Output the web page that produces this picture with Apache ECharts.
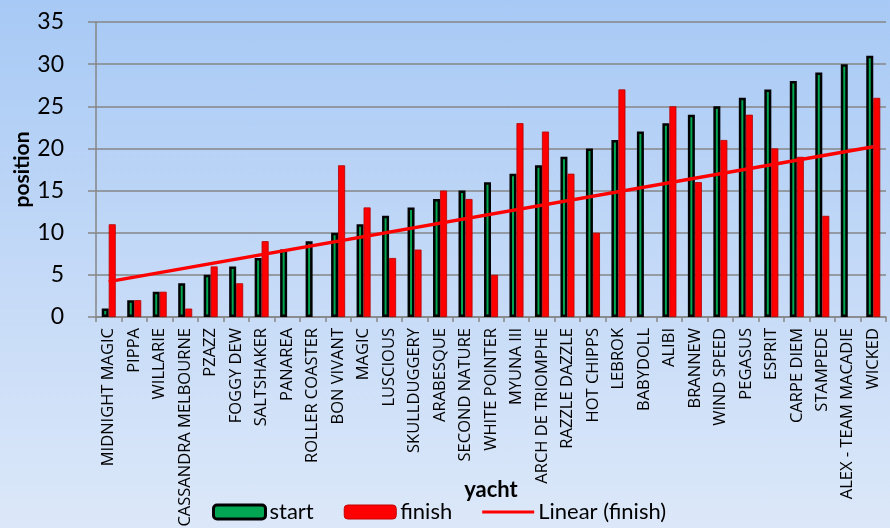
<!DOCTYPE html>
<html>
<head>
<meta charset="utf-8">
<script src="https://cdn.jsdelivr.net/npm/echarts@6/dist/echarts.min.js"></script>
<style>
	html, body { margin: 0; padding: 0; }
	body { background: linear-gradient(to bottom, #a7c9f5 0%, #c3d9f7 50%, #dce8f9 100%); }
	#chart { width: 890px; height: 528px; }
</style>
</head>
<body>
<div id="chart"></div>
<script>
// yacht names, in start order
var yachts = ['MIDNIGHT MAGIC', 'PIPPA', 'WILLARIE', 'CASSANDRA MELBOURNE', 'PZAZZ', 'FOGGY DEW',
	'SALTSHAKER', 'PANAREA', 'ROLLER COASTER', 'BON VIVANT', 'MAGIC', 'LUSCIOUS', 'SKULLDUGGERY',
	'ARABESQUE', 'SECOND NATURE', 'WHITE POINTER', 'MYUNA III', 'ARCH DE TRIOMPHE', 'RAZZLE DAZZLE',
	'HOT CHIPPS', 'LEBROK', 'BABYDOLL', 'ALIBI', 'BRANNEW', 'WIND SPEED', 'PEGASUS', 'ESPRIT',
	'CARPE DIEM', 'STAMPEDE', 'ALEX - TEAM MACADIE', 'WICKED'];
var startPos = [1, 2, 3, 4, 5, 6, 7, 8, 9, 10, 11, 12, 13, 14, 15, 16, 17, 18, 19, 20, 21, 22, 23, 24,
	25, 26, 27, 28, 29, 30, 31];
// null = did not finish
var finishPos = [11, 2, 3, 1, 6, 4, 9, null, null, 18, 13, 7, 8, 15, 14, 5, 23, 22, 17, 10, 27, null,
	25, 16, 21, 24, 20, 19, 12, null, 26];
// trend line ends (first / last yacht)
var trendEnds = [4.2, 20.2];
var yTicks = [0, 5, 10, 15, 20, 25, 30, 35];

var font = 'Lato, "Open Sans", sans-serif';
var myChart = echarts.init(document.getElementById('chart'));

var option = {
	backgroundColor: 'transparent',
	animation: false,
	textStyle: { fontFamily: font },
	grid: { left: 96, right: 4, top: 22, bottom: 211, containLabel: false, outerBoundsMode: 'none' },
	legend: {
		bottom: 0,
		left: 207,
		itemWidth: 52,
		itemHeight: 14,
		itemGap: 30,
		textStyle: { fontSize: 22, color: '#000', fontFamily: font, padding: [0, 0, 0, -1] },
		data: [
			{ name: 'start', itemStyle: { color: '#00a651', borderColor: '#000', borderWidth: 3 } },
			{ name: 'finish', itemStyle: { color: '#ff0000', borderColor: '#c00000', borderWidth: 1 } },
			{ name: 'Linear (finish)', icon: 'path://M0,0 L52,0 L52,3 L0,3 Z', itemStyle: { color: '#ff0000' } }
		]
	},
	xAxis: {
		type: 'category',
		data: yachts,
		name: 'yacht',
		nameLocation: 'middle',
		nameGap: 162,
		nameMoveOverlap: false,
		nameTextStyle: { fontSize: 22, fontWeight: 'bold', color: '#000', fontFamily: font },
		axisLine: { lineStyle: { color: '#868686', width: 1.5 } },
		axisTick: { show: true, length: 5, lineStyle: { color: '#868686', width: 1.5 } },
		axisLabel: { rotate: 90, interval: 0, fontSize: 16.5, color: '#000', margin: 11, fontFamily: '"Open Sans", Lato, sans-serif' }
	},
	yAxis: {
		type: 'value',
		min: yTicks[0],
		max: yTicks[yTicks.length - 1],
		interval: 5,
		name: 'position',
		nameLocation: 'middle',
		nameGap: 63,
		nameMoveOverlap: false,
		nameTextStyle: { fontSize: 21, fontWeight: 'bold', color: '#000', fontFamily: font },
		axisLine: { show: true, lineStyle: { color: '#868686', width: 1.5 } },
		axisTick: { show: true, length: 8, lineStyle: { color: '#868686', width: 1.5 } },
		axisLabel: { fontSize: 23, color: '#000', margin: 32, fontFamily: font },
		splitLine: { lineStyle: { color: '#868686', width: 1.5 } }
	},
	series: [
		{
			name: 'start',
			type: 'bar',
			data: startPos,
			barWidth: 7,
			barGap: '0%',
			itemStyle: { color: '#00a651', borderColor: '#000', borderWidth: 2.5 }
		},
		{
			name: 'finish',
			type: 'bar',
			data: finishPos,
			barWidth: 7,
			itemStyle: { color: '#ff0000', borderColor: '#b00000', borderWidth: 0.8 }
		},
		{
			name: 'Linear (finish)',
			type: 'line',
			data: [[yachts[0], trendEnds[0]], [yachts[yachts.length - 1], trendEnds[1]]],
			symbol: 'none',
			z: 5,
			lineStyle: { color: '#ff0000', width: 3.5 },
			itemStyle: { color: '#ff0000' }
		}
	]
};
myChart.setOption(option);
</script>
</body>
</html>
